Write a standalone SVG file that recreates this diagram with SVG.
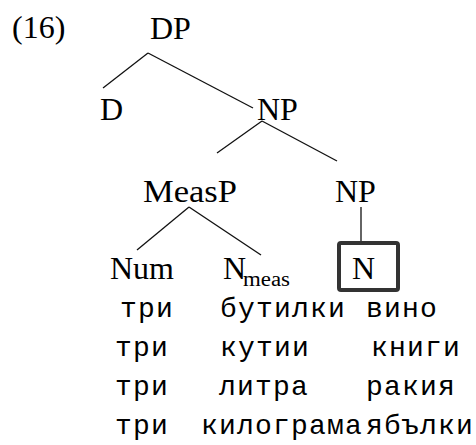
<svg xmlns="http://www.w3.org/2000/svg" width="476" height="445" viewBox="0 0 476 445">
  <style>
    .lbl { font-family: "Liberation Serif", "Times New Roman", serif; font-size: 32px; fill: #000; }
    .sub { font-family: "Liberation Serif", "Times New Roman", serif; font-size: 20px; fill: #000; }
    .gl { font-family: "Liberation Mono", "Courier New", monospace; font-size: 28px; letter-spacing: 1.2px; fill: #000; }
    .edge { stroke: #111; stroke-width: 1.3; fill: none; }
    .focus { stroke: #333; stroke-width: 4; fill: #fff; }
  </style>
  <rect width="476" height="445" fill="#fff"/>

  <text class="lbl" x="12" y="38">(16)</text>

  <g id="connectors">
    <line class="edge" x1="148" y1="53" x2="103" y2="88"/>
    <line class="edge" x1="148" y1="53" x2="253" y2="108"/>
    <line class="edge" x1="262" y1="121" x2="217" y2="153"/>
    <line class="edge" x1="262" y1="121" x2="337" y2="161"/>
    <line class="edge" x1="189" y1="207" x2="137" y2="250"/>
    <line class="edge" x1="189" y1="207" x2="261" y2="255"/>
    <line class="edge" x1="361" y1="207" x2="361" y2="242"/>
  </g>

  <g id="node-dp"><text class="lbl" x="150" y="39">DP</text></g>
  <g id="node-d"><text class="lbl" x="100" y="120">D</text></g>
  <g id="node-np-top"><text class="lbl" x="257" y="120">NP</text></g>
  <g id="node-measp"><text class="lbl" x="143" y="202" textLength="94" lengthAdjust="spacingAndGlyphs">MeasP</text></g>
  <g id="node-np-low"><text class="lbl" x="335" y="202">NP</text></g>
  <g id="node-num"><text class="lbl" x="110" y="279">Num</text></g>
  <g id="node-nmeas">
    <text class="lbl" x="223" y="279">N</text>
    <text class="sub" x="243" y="286" textLength="47" lengthAdjust="spacingAndGlyphs">meas</text>
  </g>
  <g id="node-n">
    <rect class="focus" x="339" y="243" width="59" height="47" rx="2"/>
    <text class="lbl" x="352" y="279">N</text>
  </g>

  <g id="examples">
    <text class="gl" x="120" y="317">три</text>
    <text class="gl" x="220" y="317">бутилки</text>
    <text class="gl" x="366" y="317">вино</text>

    <text class="gl" x="115" y="356">три</text>
    <text class="gl" x="220" y="356">кутии</text>
    <text class="gl" x="371" y="356">книги</text>

    <text class="gl" x="115" y="395">три</text>
    <text class="gl" x="219" y="395">литра</text>
    <text class="gl" x="366" y="395">ракия</text>

    <text class="gl" x="115" y="434">три</text>
    <text class="gl" x="201" y="434">килограма</text>
    <text class="gl" x="366" y="434">ябълки</text>
  </g>
</svg>
